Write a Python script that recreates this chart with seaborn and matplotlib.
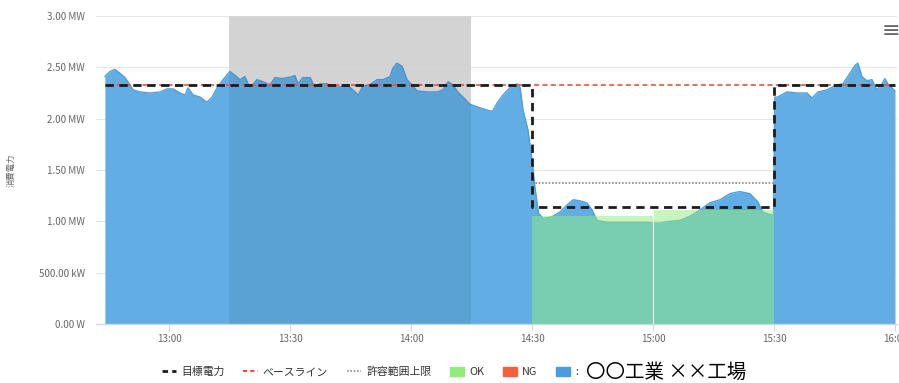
import numpy as np
import matplotlib
matplotlib.use("Agg")
import matplotlib.pyplot as plt
from matplotlib.lines import Line2D
from matplotlib.patches import Patch
import seaborn as sns

# power readings: minutes after 12:00 and MW
t_min = [44.1, 45.4, 46.6, 47.9, 49.1, 50.3, 51.1, 52.8, 55.3, 57.8, 59.5, 61.0, 62.7, 64.0, 64.7,
         66.0, 67.7, 69.4, 70.7, 71.9, 73.4, 75.1, 76.4, 77.6, 78.8, 80.1, 81.8, 83.3, 85.0, 86.3,
         88.0, 89.3, 90.5, 91.2, 92.0, 93.2, 95.0, 96.2, 97.4, 99.2, 100.7, 102.4, 104.1, 105.6,
         106.9, 108.1, 109.8, 111.6, 113.1, 114.8, 115.5, 116.5, 117.8, 119.0, 120.2, 121.5, 124.0,
         126.4, 127.9, 129.2, 130.4, 131.6, 132.9, 134.6, 136.8, 139.2, 140.2, 141.3, 142.8, 144.5,
         146.3, 147.0, 147.8, 149.0, 150.0, 150.7, 151.6, 152.7, 154.5, 155.2, 156.9, 158.7, 160.2,
         161.9, 163.6, 164.9, 166.1, 168.6, 171.8, 175.0, 178.5, 181.0, 184.2, 186.7, 189.2, 191.6,
         194.1, 196.6, 199.1, 201.5, 204.0, 206.0, 207.2, 209.5, 209.9, 210.2, 210.9, 213.2, 215.7,
         218.2, 219.4, 220.9, 223.1, 225.6, 227.1, 228.8, 230.1, 230.8, 231.8, 233.0, 234.3, 235.5,
         236.8, 237.5, 238.2, 239.5, 240.0]
power = [2.41, 2.46, 2.48, 2.44, 2.40, 2.33, 2.28, 2.26, 2.25, 2.26, 2.29, 2.29, 2.25, 2.23, 2.30,
         2.23, 2.21, 2.16, 2.21, 2.30, 2.38, 2.46, 2.42, 2.38, 2.41, 2.30, 2.38, 2.36, 2.33, 2.40,
         2.39, 2.40, 2.41, 2.42, 2.34, 2.40, 2.40, 2.30, 2.34, 2.34, 2.31, 2.31, 2.33, 2.28,
         2.23, 2.32, 2.33, 2.38, 2.38, 2.41, 2.49, 2.54, 2.51, 2.38, 2.33, 2.27, 2.26,
         2.26, 2.28, 2.36, 2.33, 2.26, 2.21, 2.14, 2.11, 2.08, 2.07, 2.15, 2.23, 2.30,
         2.34, 2.31, 2.08, 1.89, 1.60, 1.34, 1.08, 1.03, 1.04, 1.05, 1.09, 1.16, 1.21,
         1.20, 1.18, 1.11, 1.01, 0.99, 0.99, 0.99, 0.99, 0.98, 1.00, 1.01, 1.05, 1.11,
         1.18, 1.21, 1.27, 1.29, 1.27, 1.19, 1.09, 1.06, 1.06, 2.21, 2.21, 2.26, 2.25,
         2.25, 2.20, 2.26, 2.28, 2.33, 2.34, 2.44, 2.52, 2.54, 2.41, 2.37, 2.38, 2.28,
         2.34, 2.39, 2.34, 2.29, 2.27]

# target (目標電力), baseline, allowed upper limit, OK area
target_t = [44.1, 150, 150, 210, 210, 240]
target_v = [2.33, 2.33, 1.14, 1.14, 2.33, 2.33]
base_t = [44.1, 240]
base_v = [2.33, 2.33]
limit_t = [150, 210]
limit_v = [1.37, 1.37]
ok_t = [150, 180, 180, 210]
ok_v = [1.05, 1.05, 1.11, 1.11]

band = ("13:15", "14:15")
xtick_labels = ["13:00", "13:30", "14:00", "14:30", "15:00", "15:30", "16:00"]
ytick_vals = [0, 0.5, 1.0, 1.5, 2.0, 2.5, 3.0]
ytick_labels = ["0.00 W", "500.00 kW", "1.00 MW", "1.50 MW", "2.00 MW", "2.50 MW", "3.00 MW"]
legend_labels = ["目標電力", "ベースライン", "許容範囲上限", "OK", "NG", ":"]
site_name = "〇〇工業 ××工場"


def to_min(s):
    h, m = s.split(":")
    return (int(h) - 12) * 60 + int(m)


sns.set_theme(style="white")
plt.rcParams["font.family"] = ["Noto Sans CJK JP", "DejaVu Sans"]

fig = plt.figure(figsize=(8.99, 3.83), dpi=100)
ax = fig.add_axes([96 / 899, 1 - 324 / 383, (897 - 96) / 899, (324 - 16) / 383])

blue = "#62aee4"
ax.axvspan(to_min(band[0]), to_min(band[1]), color="#e3e3e3", lw=0, zorder=0)
for v in ytick_vals[1:]:
    ax.axhline(v, color="#e6e6e6", lw=0.8, zorder=0.5)

ax.fill_between(t_min, power, color=blue, lw=0, zorder=1)
sns.lineplot(x=t_min, y=power, ax=ax, color="#4f9fdb", lw=1, estimator=None, sort=False, zorder=2)
ax.axvspan(to_min(band[0]), to_min(band[1]), color="black", alpha=0.065, lw=0, zorder=2.5)

ax.fill_between(ok_t, ok_v, color="#90ed7d", alpha=0.5, lw=0, zorder=3)
ax.vlines(180, 0, 1.11, color="white", lw=0.8, zorder=3.5)

sns.lineplot(x=base_t, y=base_v, ax=ax, color="#e8533f", lw=1.2, linestyle=(2.5, (3, 2)),
             estimator=None, sort=False, zorder=4)
sns.lineplot(x=limit_t, y=limit_v, ax=ax, color="#8a8a8a", lw=1.2, linestyle=(0, (1, 1)),
             estimator=None, sort=False, zorder=4)
sns.lineplot(x=target_t, y=target_v, ax=ax, color="#1c1c1c", lw=2, linestyle=(0, (3, 2)),
             estimator=None, sort=False, zorder=5)

ax.set_xlim(41.9, 240.5)
ax.set_ylim(0, 3.0)
ax.set_xticks([to_min(s) for s in xtick_labels])
ax.set_xticklabels(xtick_labels)
ax.set_yticks(ytick_vals)
ax.set_yticklabels(ytick_labels)
ax.tick_params(axis="x", length=5, width=0.8, color="#ccd6eb", pad=2, labelsize=7, labelcolor="#666666",
               bottom=True)
ax.tick_params(axis="y", length=0, pad=8, labelsize=7, labelcolor="#666666")
for s in ["top", "right", "left"]:
    ax.spines[s].set_visible(False)
ax.spines["bottom"].set_color("#ccd6eb")
ax.spines["bottom"].set_linewidth(1)
ax.set_xlabel("")
ax.set_ylabel("消費電力", fontsize=6, color="#666666")
ax.yaxis.set_label_coords(-0.1, 0.5)

handles = [
    Line2D([], [], color="#1c1c1c", lw=2, linestyle=(0, (2, 1.5))),
    Line2D([], [], color="#e8533f", lw=1.5, linestyle=(0, (2, 1.5))),
    Line2D([], [], color="#8a8a8a", lw=1.2, linestyle=(0, (1, 1))),
    Patch(color="#90ed7d"),
    Patch(color="#f4603c"),
    Patch(color="#4a9be0"),
]
leg = ax.legend(handles, legend_labels, loc="center left", ncol=6, frameon=False,
                bbox_to_anchor=(162 / 899, 1 - 372 / 383), bbox_transform=fig.transFigure,
                fontsize=7.8, handlelength=1.3, handleheight=0.9, handletextpad=0.5,
                columnspacing=1.7, borderpad=0, borderaxespad=0)
for t in leg.get_texts():
    t.set_color("#333333")

# place the site name right after the last legend entry
fig.canvas.draw()
last = leg.get_texts()[-1].get_window_extent()
fig.text((last.x1 + 8) / 899, 1 - 372 / 383, site_name, fontsize=14, color="black",
         ha="left", va="center")

fig.text(891 / 899, 1 - 31 / 383, "≡", fontsize=16, color="#666666", ha="center", va="center",
         family="DejaVu Sans")

fig.savefig("out.png", dpi=100)
